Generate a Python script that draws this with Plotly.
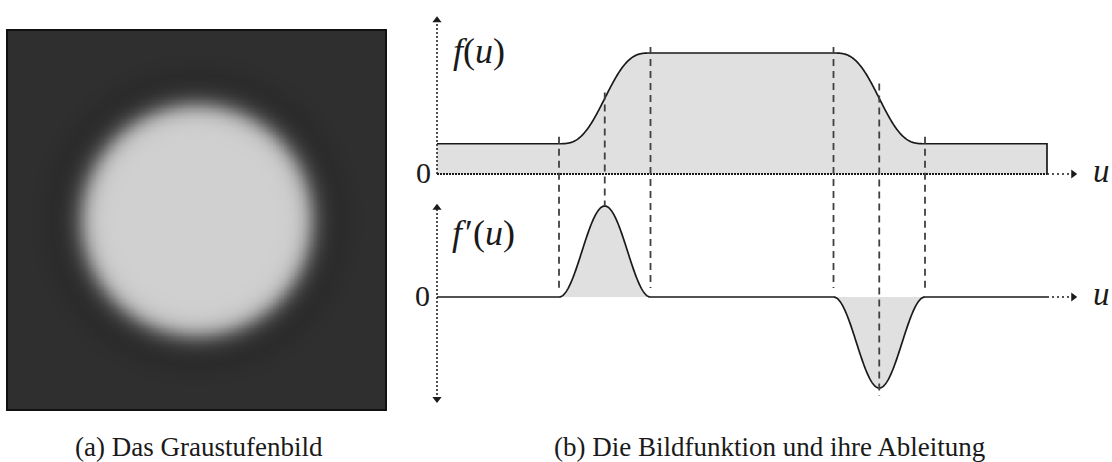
import numpy as np
import plotly.graph_objects as go

# Canvas
W, H = 1112, 462
SERIF = "Liberation Serif"
INK = "#1a1a1a"
FILL = "#e0e0e0"

# ---------------- (a) grayscale image: a blurred bright disc ----------------
IMG_N = 240              # pixels per side of the synthetic image
BG_GRAY = 47             # background gray level
DISC_GRAY = 208          # disc gray level
HALO_GRAY = 42           # faint darker ring around the disc
DISC_RADIUS = 0.302      # disc radius, fraction of image width
EDGE_WIDTH = 0.032       # blur width of the disc edge
HALO_RADIUS = 0.37
HALO_WIDTH = 0.045

# ---------------- (b) image function f(u) and its derivative ----------------
U_END = 10.0             # right end of the profile
RISE = [2.0, 3.5]        # rising edge: start, end
FALL = [6.5, 8.0]        # falling edge: start, end
F_LOW, F_HIGH = 0.25, 1.0

# Panel geometry (pixels)
IMG_BOX = [7, 30, 386, 410]          # left, top, right, bottom
U0_PX, U_PX = 437, 61.0              # u = 0 position and pixels per unit u
F0_PX, F_PX = 174, 121.0             # f = 0 position and pixels per unit f
D0_PX, D_PEAK_PX = 297, 91.0         # f' = 0 position and height of the peak


def ramp(t):
    """Smooth 0 -> 1 transition whose slope is a raised cosine."""
    t = np.clip(t, 0.0, 1.0)
    return t - np.sin(2 * np.pi * t) / (2 * np.pi)


def ramp_slope(t):
    inside = (t >= 0) & (t <= 1)
    return np.where(inside, 1 - np.cos(2 * np.pi * t), 0.0)


def f_of(u):
    w1 = RISE[1] - RISE[0]
    w2 = FALL[1] - FALL[0]
    return F_LOW + (F_HIGH - F_LOW) * (ramp((u - RISE[0]) / w1)
                                       - ramp((u - FALL[0]) / w2))


def df_of(u):
    w1 = RISE[1] - RISE[0]
    w2 = FALL[1] - FALL[0]
    return (F_HIGH - F_LOW) * (ramp_slope((u - RISE[0]) / w1) / w1
                               - ramp_slope((u - FALL[0]) / w2) / w2)


u = np.linspace(0.0, U_END, 1001)
f = f_of(u)
df = df_of(u)
rise_mid = 0.5 * (RISE[0] + RISE[1])
fall_mid = 0.5 * (FALL[0] + FALL[1])
d_peak = float(df_of(np.array([rise_mid]))[0])
d_trough = float(df_of(np.array([fall_mid]))[0])
D_PX = D_PEAK_PX / d_peak


def f_px(v):
    return F0_PX - v * F_PX


def d_px(v):
    return D0_PX - v * D_PX


# synthetic grayscale picture
c = (np.arange(IMG_N) + 0.5) / IMG_N - 0.5
xx, yy = np.meshgrid(c, c)
r = np.hypot(xx, yy)
img = (BG_GRAY
       + (DISC_GRAY - BG_GRAY) * 0.5 * (1 - np.tanh((r - DISC_RADIUS) / EDGE_WIDTH))
       - (BG_GRAY - HALO_GRAY) * np.exp(-((r - HALO_RADIUS) / HALO_WIDTH) ** 2))

fig = go.Figure()

fig.add_trace(go.Heatmap(
    z=img, x=c, y=c, zmin=0, zmax=255, zsmooth="best",
    colorscale=[[0, "black"], [1, "white"]], showscale=False,
    hoverinfo="skip", xaxis="x", yaxis="y"))

CURVE = dict(color=INK, width=1.7, simplify=False)
NOLINE = dict(width=0, simplify=False)

# --- f(u): filled profile ---
fx = np.concatenate([[0.0], u, [U_END]])
fy = np.concatenate([[0.0], f, [0.0]])
fig.add_trace(go.Scatter(
    x=fx, y=fy, mode="lines", line=NOLINE, fill="toself", fillcolor=FILL,
    xaxis="x2", yaxis="y2", hoverinfo="skip"))
fig.add_trace(go.Scatter(
    x=fx[1:], y=fy[1:], mode="lines", line=CURVE,
    xaxis="x2", yaxis="y2", hoverinfo="skip"))

AX_ARROW_U = 10.43
F_AXIS_TOP = 1.27
# u axis of the f panel
fig.add_trace(go.Scatter(x=[0, U_END], y=[0, 0], mode="lines",
                         line=dict(color=INK, width=2, dash="2px,1px"),
                         xaxis="x2", yaxis="y2", hoverinfo="skip"))
fig.add_trace(go.Scatter(x=[U_END, AX_ARROW_U], y=[0, 0], mode="lines",
                         line=dict(color=INK, width=1.5, dash="2px,3px"),
                         xaxis="x2", yaxis="y2", hoverinfo="skip"))
# vertical f axis
fig.add_trace(go.Scatter(x=[0, 0], y=[0, F_AXIS_TOP], mode="lines",
                         line=dict(color=INK, width=1.5, dash="2px,2px"),
                         xaxis="x2", yaxis="y2", hoverinfo="skip"))
fig.add_trace(go.Scatter(x=[AX_ARROW_U, 0], y=[0, F_AXIS_TOP], mode="markers",
                         marker=dict(symbol=["triangle-right", "triangle-up"],
                                     size=8, color=INK),
                         xaxis="x2", yaxis="y2", hoverinfo="skip"))

# --- f'(u): derivative, each lobe filled on its own ---
for lo, hi in (RISE, FALL):
    seg = (u >= lo) & (u <= hi)
    fig.add_trace(go.Scatter(
        x=np.concatenate([[lo], u[seg], [hi]]),
        y=np.concatenate([[0.0], df[seg], [0.0]]),
        mode="lines", line=NOLINE, fill="toself", fillcolor=FILL,
        xaxis="x2", yaxis="y3", hoverinfo="skip"))
fig.add_trace(go.Scatter(
    x=u, y=df, mode="lines", line=CURVE, xaxis="x2", yaxis="y3", hoverinfo="skip"))
D_AXIS_TOP, D_AXIS_BOTTOM = 0.98, -1.12
fig.add_trace(go.Scatter(x=[U_END, AX_ARROW_U], y=[0, 0], mode="lines",
                         line=dict(color=INK, width=1.5, dash="2px,3px"),
                         xaxis="x2", yaxis="y3", hoverinfo="skip"))
fig.add_trace(go.Scatter(x=[0, 0], y=[D_AXIS_BOTTOM, D_AXIS_TOP], mode="lines",
                         line=dict(color=INK, width=1.5, dash="2px,2px"),
                         xaxis="x2", yaxis="y3", hoverinfo="skip"))
fig.add_trace(go.Scatter(x=[AX_ARROW_U, 0, 0], y=[0, D_AXIS_TOP, D_AXIS_BOTTOM],
                         mode="markers",
                         marker=dict(symbol=["triangle-right", "triangle-up", "triangle-down"],
                                     size=8, color=INK),
                         xaxis="x2", yaxis="y3", hoverinfo="skip"))

# --- dashed guides through the edge points (drawn in pixel space) ---
guides = [
    (RISE[0], 7, d_px(0) - 9),
    (rise_mid, 6, d_px(d_peak)),
    (RISE[1], 6, d_px(0) - 9),
    (FALL[0], 6, d_px(0) - 9),
    (fall_mid, 15, d_px(d_trough) + 8),
    (FALL[1], 7, d_px(0) - 9),
]
for ue, gap, bottom in guides:
    top = f_px(float(f_of(np.array([ue]))[0])) - gap
    fig.add_trace(go.Scatter(x=[ue, ue], y=[top, bottom], mode="lines",
                             line=dict(color="#404040", width=1.8, dash="7px,5px"),
                             xaxis="x2", yaxis="y4", hoverinfo="skip"))


def label(text, x, y, size):
    fig.add_annotation(text=text, x=x / W, y=1 - y / H, xref="paper", yref="paper",
                       showarrow=False, xanchor="center", yanchor="middle",
                       font=dict(family=SERIF, size=size, color=INK))


label("<i>f</i>(<i>u</i>)", 479, 51, 36)
label("<i>f</i>\u200a′(<i>u</i>)", 483, 233, 36)
label("0", 423, 173, 30)
label("0", 422, 295, 30)
label("<i>u</i>", 1101, 171, 33)
label("<i>u</i>", 1101, 294, 33)
label("(a) Das Graustufenbild", 199, 447, 27)
label("(b) Die Bildfunktion und ihre Ableitung", 769, 447, 27)

# frame around the grayscale image
fig.add_shape(type="rect", xref="paper", yref="paper",
              x0=IMG_BOX[0] / W, x1=IMG_BOX[2] / W,
              y0=1 - IMG_BOX[3] / H, y1=1 - IMG_BOX[1] / H,
              line=dict(color="#111111", width=2), layer="above")

hidden = dict(visible=False, showgrid=False, zeroline=False, fixedrange=True)
fig.update_layout(
    width=W, height=H, margin=dict(l=0, r=0, t=0, b=0),
    paper_bgcolor="white", plot_bgcolor="rgba(0,0,0,0)", showlegend=False,
    xaxis=dict(domain=[IMG_BOX[0] / W, IMG_BOX[2] / W], range=[-0.5, 0.5],
               anchor="y", **hidden),
    yaxis=dict(domain=[1 - IMG_BOX[3] / H, 1 - IMG_BOX[1] / H], range=[-0.5, 0.5],
               anchor="x", **hidden),
    xaxis2=dict(domain=[0, 1], range=[-U0_PX / U_PX, (W - U0_PX) / U_PX],
                anchor="y2", **hidden),
    yaxis2=dict(domain=[0, 1], range=[(F0_PX - H) / F_PX, F0_PX / F_PX],
                anchor="x2", **hidden),
    yaxis3=dict(domain=[0, 1], range=[(D0_PX - H) / D_PX, D0_PX / D_PX],
                anchor="x2", overlaying="y2", **hidden),
    yaxis4=dict(domain=[0, 1], range=[H, 0], anchor="x2", overlaying="y2", **hidden),
)

fig.write_html("out.html")
